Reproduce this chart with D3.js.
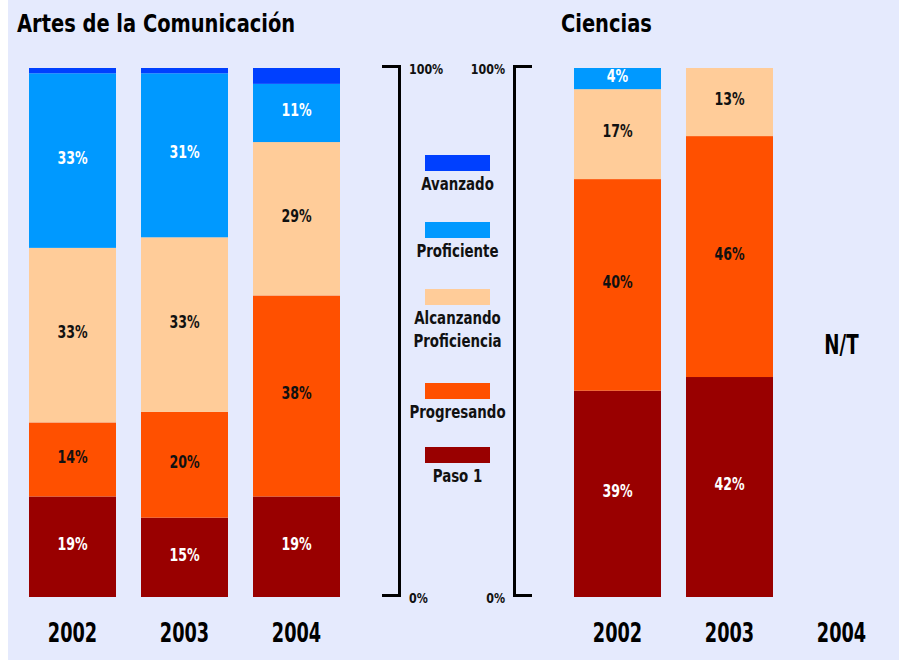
<!DOCTYPE html>
<html>
<head>
<meta charset="utf-8">
<script src="https://cdn.jsdelivr.net/npm/d3@7"></script>
<style>
  html, body { margin: 0; padding: 0; background: #ffffff; }
  svg { display: block; }
  text { font-family: "DejaVu Sans Condensed", "DejaVu Sans", sans-serif; font-weight: bold; }
</style>
</head>
<body>
<svg id="chart" width="899" height="660"></svg>
<script>
// ---- data ----
const levels = ["Paso 1", "Progresando", "Alcanzando Proficiencia", "Proficiente", "Avanzado"];
const levelColors = ["#990000", "#FF5000", "#FFCC99", "#0099FF", "#0040FF"];
const labelColors = ["#ffffff", "#111111", "#111111", "#ffffff", "#ffffff"];
const legendLines = [["Paso 1"], ["Progresando"], ["Alcanzando", "Proficiencia"], ["Proficiente"], ["Avanzado"]];

const years = ["2002", "2003", "2004"];

// Artes de la Comunicación, percent per level (Paso 1 .. Avanzado)
const artesPaso1       = [19, 15, 19];
const artesProgresando = [14, 20, 38];
const artesAlcanzando  = [33, 33, 29];
const artesProficiente = [33, 31, 11];
const artesAvanzado    = [1, 1, 3];

// Ciencias (2004 not tested: N/T)
const cienciasYears       = ["2002", "2003"];
const cienciasPaso1       = [39, 42];
const cienciasProgresando = [40, 46];
const cienciasAlcanzando  = [17, 13];
const cienciasProficiente = [4, 0];
const cienciasAvanzado    = [0, 0];

const titles = ["Artes de la Comunicación", "Ciencias"];
const noData = "N/T";
const axisLabels = ["0%", "100%"];

// ---- build rows ----
function rows(yrs, cols) {
  return yrs.map((yr, i) => {
    const r = { year: yr };
    levels.forEach((lv, k) => r[lv] = cols[k][i]);
    return r;
  });
}
const artesRows = rows(years, [artesPaso1, artesProgresando, artesAlcanzando, artesProficiente, artesAvanzado]);
const cienciasRows = rows(cienciasYears, [cienciasPaso1, cienciasProgresando, cienciasAlcanzando, cienciasProficiente, cienciasAvanzado]);

const stack = d3.stack().keys(levels).offset(d3.stackOffsetExpand);

const svg = d3.select("#chart");
svg.append("rect").attr("x", 8).attr("y", 0).attr("width", 891).attr("height", 660).attr("fill", "#E5EAFD");

// condensed text helper
function txt(parent, x, yy, str, size, sx, anchor, fill) {
  return parent.append("text")
    .attr("transform", `translate(${x},${yy}) scale(${sx},1)`)
    .attr("text-anchor", anchor)
    .attr("font-size", size)
    .attr("fill", fill)
    .text(str);
}

const y = d3.scaleLinear().domain([0, 1]).range([597, 68]);

function panel(data, xRange, title, titleX) {
  const x = d3.scaleBand().domain(years).range(xRange).paddingInner(25 / 112).paddingOuter(12.5 / 112);
  const g = svg.append("g");
  const series = stack(data);
  const layer = g.selectAll("g.layer").data(series).join("g").attr("class", "layer")
    .attr("fill", (d, i) => levelColors[i]);
  layer.selectAll("rect").data(d => d).join("rect")
    .attr("x", d => x(d.data.year))
    .attr("width", x.bandwidth())
    .attr("y", d => y(d[1]))
    .attr("height", d => Math.max(0, y(d[0]) - y(d[1])));
  // value labels
  series.forEach((s, i) => {
    if (levels[i] === "Avanzado") return;
    s.filter(d => d.data[levels[i]] > 0).forEach(d => {
      txt(g, x(d.data.year) + x.bandwidth() / 2, (y(d[0]) + y(d[1])) / 2 + 3.2,
          d.data[levels[i]] + "%", 17.5, 0.8, "middle", labelColors[i]);
    });
  });
  // year labels
  years.forEach(yr => txt(g, x(yr) + x.bandwidth() / 2, 642, yr, 27, 0.73, "middle", "#000"));
  // title
  txt(g, titleX, 32, title, 25, 0.865, "start", "#000");
  return x;
}

panel(artesRows, [16.5, 352.5], titles[0], 17);
const xc = panel(cienciasRows, [561.5, 897.5], titles[1], 561);

// N/T for Ciencias 2004
txt(svg, xc("2004") + xc.bandwidth() / 2, 354, noData, 27, 0.75, "middle", "#000");

// brackets (axes)
const yA = d3.scaleLinear().domain([0, 1]).range([595.5, 66.5]);
svg.append("path")
  .attr("d", `M382,${yA(1)}H399.5V${yA(0)}H382`)
  .attr("fill", "none").attr("stroke", "#000").attr("stroke-width", 3);
svg.append("path")
  .attr("d", `M532,${yA(1)}H514.5V${yA(0)}H532`)
  .attr("fill", "none").attr("stroke", "#000").attr("stroke-width", 3);
[0, 1].forEach((v, i) => {
  txt(svg, 409, yA(v) + 7, axisLabels[i], 14.5, 0.85, "start", "#111");
  txt(svg, 505, yA(v) + 7, axisLabels[i], 14.5, 0.85, "end", "#111");
});

// legend
const swatchTop = [447, 383, 289, 222, 155];
const lg = svg.append("g");
levels.forEach((lv, i) => {
  lg.append("rect").attr("x", 425).attr("y", swatchTop[i]).attr("width", 65).attr("height", 16).attr("fill", levelColors[i]);
  legendLines[i].forEach((ln, j) => {
    txt(lg, 457.5, swatchTop[i] + 35 + j * 23, ln, 17.5, 0.85, "middle", "#111");
  });
});
</script>
</body>
</html>
